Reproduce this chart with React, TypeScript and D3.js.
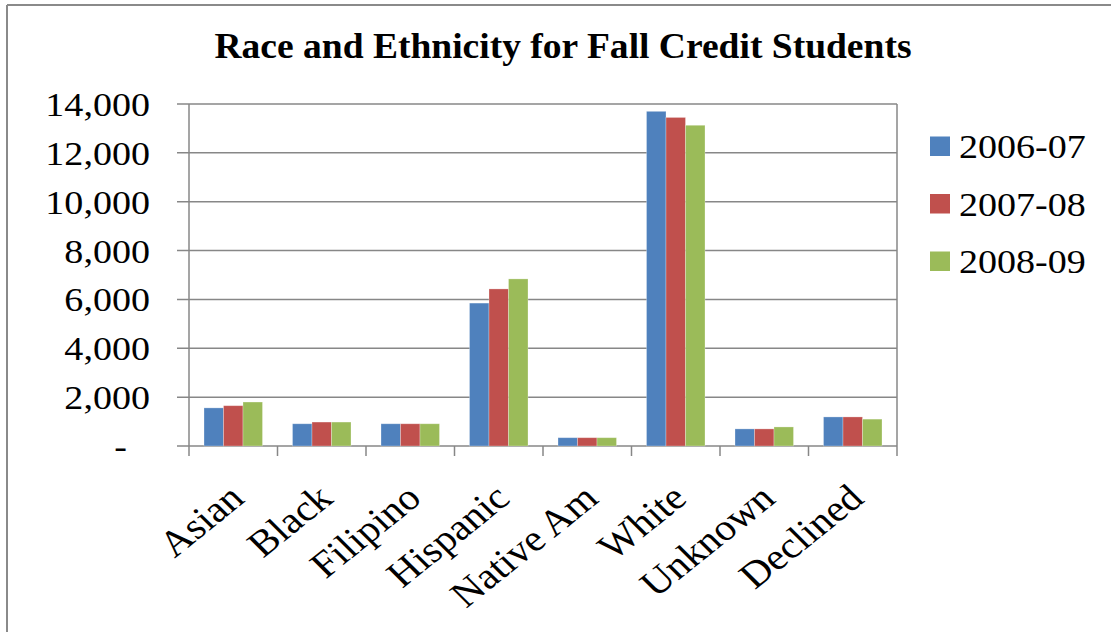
import React from "react";
import * as d3 from "d3";

const categories = ["Asian", "Black", "Filipino", "Hispanic", "Native Am", "White", "Unknown", "Declined"];
const seriesNames = ["2006-07", "2007-08", "2008-09"];
const values2006 = [1560, 910, 910, 5850, 340, 13700, 700, 1190];
const values2007 = [1650, 980, 910, 6430, 340, 13450, 700, 1190];
const values2008 = [1800, 980, 910, 6840, 340, 13130, 780, 1100];
const yTicks = [0, 2000, 4000, 6000, 8000, 10000, 12000, 14000];
const colors = ["#4F81BD", "#C0504D", "#9BBB59"];
const title = "Race and Ethnicity for Fall Credit Students";

const W = 1111;
const H = 632;
const FONT = "Liberation Serif, Times New Roman, serif";
const SX = 1.12;

export default function App() {
  const series = [values2006, values2007, values2008];
  const plot = { left: 189, right: 897, top: 104, bottom: 446 };
  const y = d3.scaleLinear().domain([0, 14000]).range([plot.bottom, plot.top]);
  const x0 = d3.scaleBand<string>().domain(categories).range([plot.left, plot.right]).paddingInner(0).paddingOuter(0);
  const bw = x0.bandwidth();
  const x1 = d3.scaleBand<string>().domain(seriesNames).range([15, bw - 15]).padding(0);
  const fmt = d3.format(",");
  const grid = "#878787";

  return (
    <svg width={W} height={H} style={{ position: "absolute", left: 0, top: 0, display: "block", background: "#fff" }}>
      <line x1={7} y1={5} x2={W} y2={5} stroke="#8a8a8a" strokeWidth={2} />
      <line x1={7} y1={5} x2={7} y2={H} stroke="#8a8a8a" strokeWidth={2} />

      <text x={563} y={58} textAnchor="middle" fontFamily={FONT} fontWeight="bold" fontSize={35}
        textLength={697} lengthAdjust="spacingAndGlyphs">{title}</text>

      {yTicks.map((t) => (
        <line key={"g" + t} x1={plot.left - 12} x2={plot.right} y1={y(t)} y2={y(t)} stroke={grid} strokeWidth={1.5} />
      ))}
      <line x1={plot.right} x2={plot.right} y1={plot.top} y2={plot.bottom} stroke={grid} strokeWidth={1.5} />
      <line x1={plot.left} x2={plot.left} y1={plot.top} y2={plot.bottom + 10} stroke={grid} strokeWidth={1.5} />
      {categories.map((c) => (
        <line key={"xt" + c} x1={x0(c)! + bw} x2={x0(c)! + bw} y1={plot.bottom} y2={plot.bottom + 10} stroke={grid} strokeWidth={1.5} />
      ))}

      {yTicks.map((t) => (
        <text key={"yl" + t} transform={`translate(${t === 0 ? 127 : 150},${y(t) + 12}) scale(${SX},1)`}
          textAnchor="end" fontFamily={FONT} fontSize={34}>{t === 0 ? "-" : fmt(t)}</text>
      ))}

      {categories.map((c, i) => (
        <g key={"b" + c} transform={`translate(${x0(c)},0)`}>
          {seriesNames.map((s, j) => (
            <rect key={s} x={x1(s)} y={y(series[j][i])} width={x1.bandwidth()} height={y(0) - y(series[j][i])}
              fill={colors[j]} stroke="rgba(255,255,255,0.35)" strokeWidth={0.8} />
          ))}
        </g>
      ))}

      {categories.map((c) => (
        <text key={"xl" + c}
          transform={`translate(${x0(c)! + bw / 2 + 13},501) scale(${SX},1) rotate(-42)`}
          textAnchor="end" fontFamily={FONT} fontSize={37}>{c}</text>
      ))}

      {seriesNames.map((s, j) => (
        <g key={"lg" + s}>
          <rect x={930} y={136.5 + j * 57.5} width={20} height={19.5} fill={colors[j]} />
          <text transform={`translate(959,${158 + j * 57.5}) scale(${SX},1)`} fontFamily={FONT} fontSize={34}>{s}</text>
        </g>
      ))}
    </svg>
  );
}
